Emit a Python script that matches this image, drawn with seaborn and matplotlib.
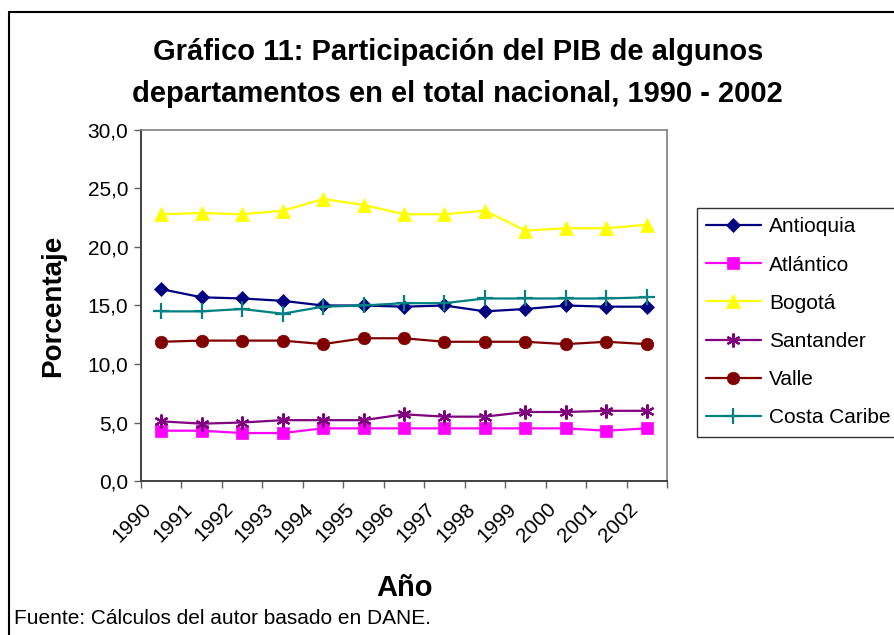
import pandas as pd
import matplotlib.pyplot as plt
import matplotlib.ticker as mticker
import matplotlib.transforms as mtransforms
import seaborn as sns

# Datos (porcentaje del PIB nacional)
anios = list(range(1990, 2003))
antioquia = [16.4, 15.7, 15.6, 15.4, 15.0, 15.0, 14.9, 15.0, 14.5, 14.7, 15.0, 14.9, 14.9]
atlantico = [4.3, 4.3, 4.1, 4.1, 4.5, 4.5, 4.5, 4.5, 4.5, 4.5, 4.5, 4.3, 4.5]
bogota = [22.8, 22.9, 22.8, 23.1, 24.1, 23.6, 22.8, 22.8, 23.1, 21.4, 21.6, 21.6, 21.9]
santander = [5.1, 4.9, 5.0, 5.2, 5.2, 5.2, 5.7, 5.5, 5.5, 5.9, 5.9, 6.0, 6.0]
valle = [11.9, 12.0, 12.0, 12.0, 11.7, 12.2, 12.2, 11.9, 11.9, 11.9, 11.7, 11.9, 11.7]
costa_caribe = [14.5, 14.5, 14.7, 14.3, 14.9, 15.0, 15.2, 15.2, 15.6, 15.6, 15.6, 15.6, 15.7]

series = ["Antioquia", "Atlántico", "Bogotá", "Santander", "Valle", "Costa Caribe"]
valores = [antioquia, atlantico, bogota, santander, valle, costa_caribe]
colores = ["#000080", "#FF00FF", "#FFFF00", "#800080", "#800000", "#008080"]
marcadores = ["D", "s", "^", (6, 2, 0), "o", "+"]
tamanos = [7.5, 8.5, 10, 10, 9, 11]

df = pd.DataFrame({
    "anio": anios * len(series),
    "valor": [v for vals in valores for v in vals],
    "serie": [s for s in series for _ in anios],
})

sns.set_style("white")
plt.rcParams["font.family"] = ["Liberation Sans", "DejaVu Sans"]
plt.rcParams["text.color"] = "black"
plt.rcParams["xtick.color"] = "black"
plt.rcParams["ytick.color"] = "black"
plt.rcParams["axes.labelcolor"] = "black"

fig = plt.figure(figsize=(8.94, 6.35), dpi=100)
ax = fig.add_axes([0.1577, 0.2425, 0.5884, 0.5528])

for s, c, m, ms in zip(series, colores, marcadores, tamanos):
    sns.lineplot(
        data=df[df["serie"] == s],
        x="anio",
        y="valor",
        color=c,
        marker=m,
        markersize=ms,
        markeredgecolor=c,
        markeredgewidth=1.6 if m in ["+", (6, 2, 0)] else 0.5,
        linewidth=1.6,
        label=s,
        ax=ax,
    )

ax.set_xlim(1989.5, 2002.5)
ax.set_ylim(0, 30)
ax.set_yticks([0, 5, 10, 15, 20, 25, 30])
ax.yaxis.set_major_formatter(mticker.FuncFormatter(lambda v, p: f"{v:.1f}".replace(".", ",")))

# ticks en los limites de categoria, etiquetas en el centro
ax.set_xticks([a - 0.5 for a in anios] + [2002.5])
ax.set_xticklabels([])
ax.set_xticks(anios, minor=True)
ax.set_xticklabels([str(a) for a in anios], minor=True, rotation=45,
                   ha="right", rotation_mode="anchor", fontsize=15)
ax.tick_params(axis="x", which="minor", length=0, pad=13)
ax.tick_params(axis="x", which="major", direction="out", length=5, width=1, color="#606060", bottom=True)
ax.tick_params(axis="y", direction="out", length=5, width=1, color="#606060", left=True, labelsize=15, pad=4)

# las etiquetas de Excel quedan corridas a la izquierda del punto
corrimiento = mtransforms.ScaledTranslation(-19 / 100, 0, fig.dpi_scale_trans)
for lbl in ax.get_xticklabels(minor=True):
    lbl.set_transform(lbl.get_transform() + corrimiento)

for lado in ["left", "bottom"]:
    ax.spines[lado].set_color("#404040")
    ax.spines[lado].set_linewidth(1.4)
for lado in ["top", "right"]:
    ax.spines[lado].set_color("#808080")
    ax.spines[lado].set_linewidth(1.2)

ax.set_xlabel("")
ax.set_ylabel("Porcentaje", fontsize=20, fontweight="bold")
ax.yaxis.set_label_coords(-0.143, 0.5)

fig.text(0.512, 0.918, "Gráfico 11: Participación del PIB de algunos", ha="center", va="center",
         fontsize=21, fontweight="bold")
fig.text(0.512, 0.852, "departamentos en el total nacional, 1990 - 2002", ha="center", va="center",
         fontsize=21, fontweight="bold")
fig.text(0.453, 0.074, "Año", ha="center", va="center", fontsize=21, fontweight="bold")
fig.text(0.016, 0.026, "Fuente: Cálculos del autor basado en DANE.", ha="left", va="center", fontsize=15)

handles, labels = ax.get_legend_handles_labels()
leg = ax.legend(handles, labels, loc="upper left", bbox_to_anchor=(0.7796, 0.6724),
                bbox_transform=fig.transFigure, fontsize=15, frameon=True, fancybox=False,
                edgecolor="black", handlelength=2.6, labelspacing=0.92, borderpad=0.45,
                handletextpad=0.4, borderaxespad=0)
leg.get_frame().set_linewidth(1.0)

# marco exterior del grafico
fig.add_artist(plt.Line2D([0.010, 0.010], [0.0, 0.981], color="black", linewidth=1.5))
fig.add_artist(plt.Line2D([0.010, 1.0], [0.981, 0.981], color="black", linewidth=1.5))

plt.savefig("out.png", dpi=100)
plt.close()
